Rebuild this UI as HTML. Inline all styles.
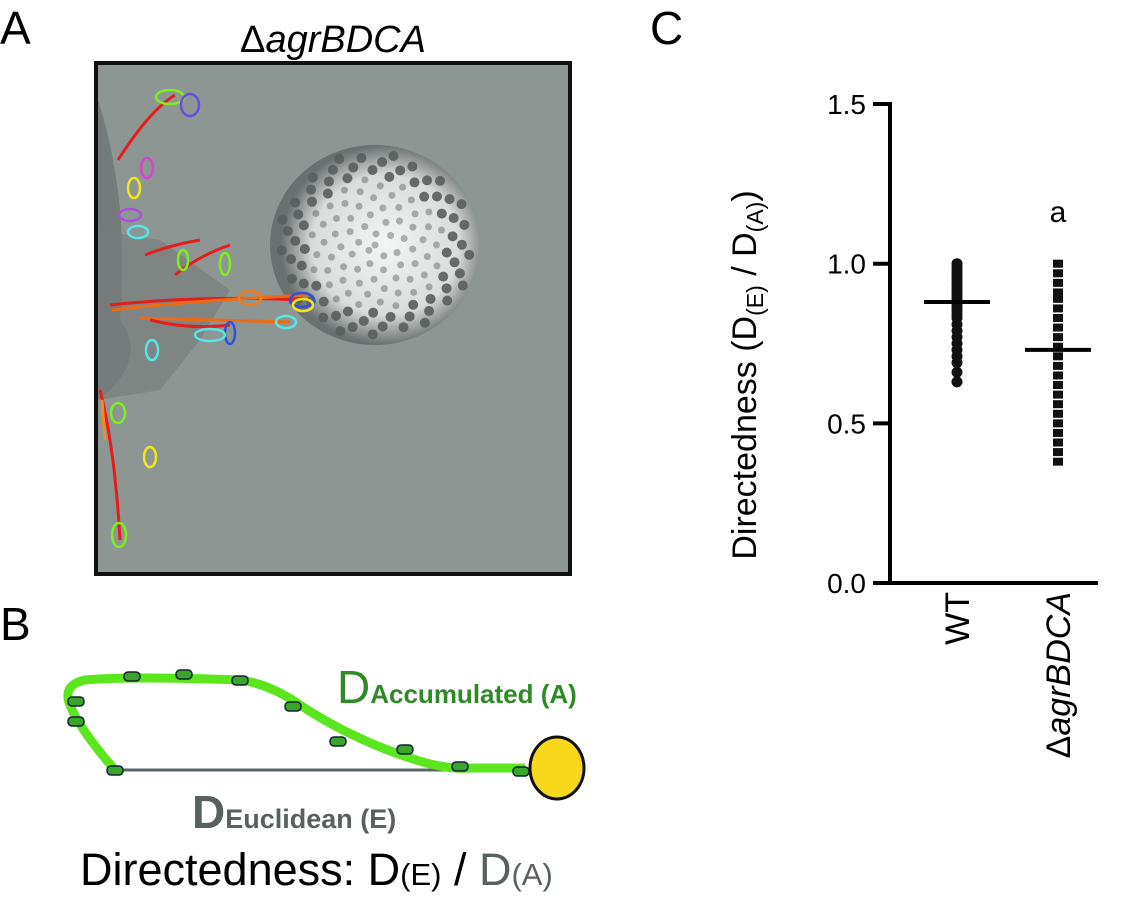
<!DOCTYPE html>
<html><head><meta charset="utf-8"><style>
body{margin:0;background:#fff;width:1130px;height:902px;overflow:hidden;font-family:"Liberation Sans",sans-serif}
svg{display:block}
</style></head><body>
<svg width="1130" height="902" viewBox="0 0 1130 902" xmlns="http://www.w3.org/2000/svg" font-family="Liberation Sans, sans-serif">
<defs>
<radialGradient id="cl" cx="0.55" cy="0.5" r="0.5"><stop offset="0" stop-color="#f4f6f5"/><stop offset="0.7" stop-color="#d8dcdb"/><stop offset="1" stop-color="#6a706f"/></radialGradient>
</defs>
<text x="0" y="44" font-size="46">A</text>
<text x="0" y="640" font-size="46">B</text>
<text x="650" y="44" font-size="46">C</text>
<text x="333" y="52" font-size="38" text-anchor="middle">Δ<tspan font-style="italic">agrBDCA</tspan></text>
<g>
<rect x="96" y="63" width="474" height="511" fill="#8e9694" stroke="#111" stroke-width="4"/>
<path d="M98 100 Q130 200 120 320 Q150 360 98 400 Z" fill="#6e7473" opacity="0.8"/>
<path d="M98 230 L160 240 L230 290 L200 340 L160 390 L98 400 Z" fill="#777d7c" opacity="0.7"/>
<ellipse cx="375" cy="245" rx="105" ry="100" fill="url(#cl)"/>
<g fill="#595e5d" id="dots"></g>
<g fill="none" stroke-width="3">
<path d="M118 160 Q150 110 175 95" stroke="#e51d1d"/>
<path d="M110 305 Q200 295 300 300" stroke="#e51d1d"/>
<path d="M112 310 Q200 300 310 295 M140 318 Q210 320 290 322" stroke="#f06a14"/>
<path d="M150 320 Q190 330 230 325 M145 255 Q170 245 200 240" stroke="#e51d1d"/>
<path d="M175 275 Q200 255 230 245" stroke="#e51d1d"/>
<path d="M100 390 Q115 450 120 540" stroke="#e51d1d"/>
<path d="M102 400 L105 440" stroke="#f0901e"/>
</g>
<g fill="none" stroke-width="2.5">
<ellipse cx="170" cy="97" rx="14" ry="7" stroke="#7cf01e"/>
<ellipse cx="190" cy="105" rx="9" ry="11" stroke="#6a4de0"/>
<ellipse cx="147" cy="168" rx="6" ry="10" stroke="#d646d6"/>
<ellipse cx="134" cy="188" rx="6" ry="10" stroke="#f0e61e"/>
<ellipse cx="130" cy="215" rx="11" ry="6" stroke="#a84fe0"/>
<ellipse cx="138" cy="232" rx="10" ry="6" stroke="#56e6e6"/>
<ellipse cx="225" cy="264" rx="5" ry="11" stroke="#7cf01e"/>
<ellipse cx="250" cy="298" rx="11" ry="7" stroke="#f07a1e"/>
<ellipse cx="302" cy="300" rx="12" ry="7" stroke="#2f4fe0"/>
<ellipse cx="303" cy="305" rx="10" ry="6" stroke="#f0e61e"/>
<ellipse cx="286" cy="322" rx="10" ry="6" stroke="#56e6e6"/>
<ellipse cx="230" cy="333" rx="5" ry="11" stroke="#2f4fe0"/>
<ellipse cx="210" cy="335" rx="15" ry="6" stroke="#56e6e6"/>
<ellipse cx="152" cy="350" rx="6" ry="10" stroke="#56e6e6"/>
<ellipse cx="118" cy="413" rx="7" ry="10" stroke="#7cf01e"/>
<ellipse cx="150" cy="457" rx="6" ry="10" stroke="#f0e61e"/>
<ellipse cx="119" cy="535" rx="7" ry="12" stroke="#7cf01e"/>
<ellipse cx="183" cy="260" rx="5" ry="10" stroke="#7cf01e"/>
</g>
</g>
<g>
<line x1="115" y1="770" x2="530" y2="770" stroke="#5b6466" stroke-width="3"/>
<path d="M115 770 Q80 730 70 705 Q62 685 85 680 Q130 676 240 680 Q270 684 300 705 Q350 738 410 758 Q445 770 470 768 L525 768" fill="none" stroke="#5ce61e" stroke-width="9"/>
<g fill="#3aa52a" stroke="#123" stroke-width="1.5">
<rect x="68" y="697" width="16" height="9" rx="4"/>
<rect x="68" y="717" width="16" height="9" rx="4"/>
<rect x="107" y="766" width="16" height="9" rx="4"/>
<rect x="124" y="672" width="16" height="9" rx="4"/><rect x="176" y="670" width="16" height="9" rx="4"/>
<rect x="232" y="676" width="16" height="9" rx="4"/><rect x="285" y="702" width="16" height="9" rx="4"/>
<rect x="330" y="737" width="16" height="9" rx="4"/><rect x="397" y="745" width="16" height="9" rx="4"/>
<rect x="452" y="762" width="16" height="9" rx="4"/><rect x="513" y="767" width="16" height="9" rx="4"/>
</g>
<ellipse cx="557" cy="768" rx="27" ry="31" fill="#f7d81a" stroke="#111" stroke-width="3"/>
<text x="337" y="703" fill="#2e8a24" font-size="46">D<tspan font-size="26" font-weight="bold">Accumulated (A)</tspan></text>
<text x="192" y="828" fill="#58615f" font-size="46" font-weight="bold">D<tspan font-size="27">Euclidean (E)</tspan></text>
<text x="80" y="885" font-size="45">Directedness: D<tspan font-size="31">(E)</tspan> / <tspan fill="#58615f">D<tspan font-size="31">(A)</tspan></tspan></text>
</g>
<g id="chart"></g>
<script>
const categories=["WT","ΔagrBDCA"];
const wtValues=[1.0,0.99,0.98,0.97,0.96,0.95,0.94,0.93,0.92,0.91,0.9,0.89,0.88,0.87,0.86,0.85,0.84,0.83,0.81,0.79,0.77,0.75,0.73,0.71,0.69,0.66,0.63];
const mutValues=[1.0,0.97,0.94,0.91,0.89,0.86,0.83,0.8,0.77,0.74,0.71,0.68,0.65,0.62,0.59,0.56,0.53,0.5,0.47,0.44,0.41,0.38];
const means=[0.88,0.73];
const yTicks=[0,0.5,1.0,1.5];
const yTickLabels=["0.0","0.5","1.0","1.5"];
const ns="http://www.w3.org/2000/svg";
const g=document.getElementById('chart');
const y=v=>583-v*319.3;
const xc=i=>[957,1058][i];
function mk(t,a,p){const e=document.createElementNS(ns,t);for(const k in a)e.setAttribute(k,a[k]);(p||g).appendChild(e);return e;}
function ts(parent,txt,a){const e=mk('tspan',a||{},parent);e.textContent=txt;return e;}
let ax=mk('line',{x1:890,y1:102,x2:890,y2:585,stroke:'#000','stroke-width':4});


let bx=mk('line',{x1:888,y1:583,x2:1098,y2:583,stroke:'#000','stroke-width':4});


yTicks.forEach((v,i)=>{
 let t=mk('line',{x1:873,y1:y(v),x2:890,y2:y(v),stroke:'#000','stroke-width':4});
 
 
 let l=mk('text',{x:866,y:y(v)+10,'font-size':28,'text-anchor':'end'});l.textContent=yTickLabels[i];
 
 
});
categories.forEach((c,i)=>{
 let t=mk('text',{transform:`translate(${xc(i)+12},592) rotate(-90)`,'font-size':34,'text-anchor':'end'});
 if(i==1){ts(t,'Δ');ts(t,'agrBDCA',{'font-style':'italic'});}else t.textContent=c;
 
 
});
wtValues.forEach(v=>{let c=mk('circle',{cx:xc(0),cy:y(v),r:5.5,fill:'#111'});
 
 });
mutValues.forEach(v=>{let r=mk('rect',{x:xc(1)-5,y:y(v)-4,width:10,height:8,fill:'#111'});
 
 });
means.forEach((m,i)=>{let l=mk('line',{x1:xc(i)-33,y1:y(m),x2:xc(i)+33,y2:y(m),stroke:'#000','stroke-width':4});
 
 });
let a=mk('text',{x:xc(1),y:222,'font-size':30,'text-anchor':'middle'});a.textContent='a';


let yl=mk('text',{transform:'translate(756,375) rotate(-90)','font-size':34,'text-anchor':'middle'});
ts(yl,'Directedness (D');ts(yl,'(E)',{'font-size':23,dy:7});ts(yl,' / D',{dy:-7});ts(yl,'(A)',{'font-size':23,dy:7});ts(yl,')',{dy:-7});


const dg=document.getElementById('dots');
for(let k=0;k<140;k++){const ang=k*2.399,rr=Math.sqrt(k/140)*98;const c=document.createElementNS(ns,'circle');
c.setAttribute('cx',375+Math.cos(ang)*rr);c.setAttribute('cy',245+Math.sin(ang)*rr*0.95);c.setAttribute('r',rr>70?5:3.5);
c.setAttribute('opacity',rr>70?0.9:0.45);dg.appendChild(c);}
</script>
</svg>
</body></html>
